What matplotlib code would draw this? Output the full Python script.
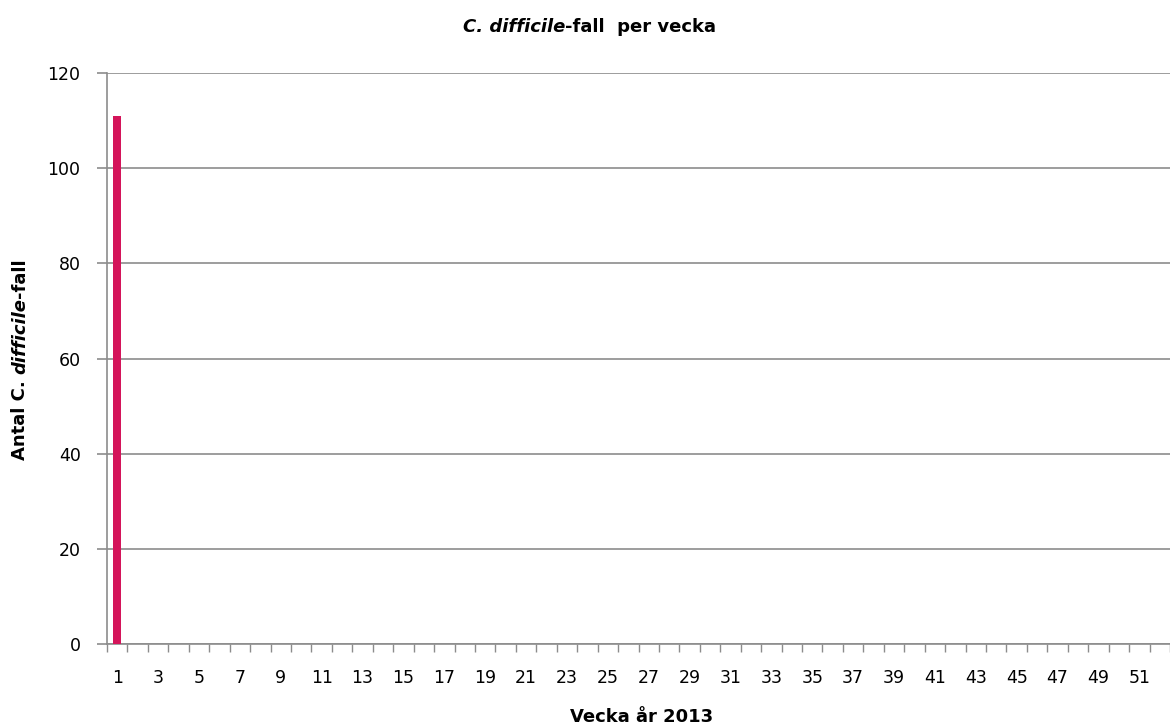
import matplotlib.pyplot as plt

# data
weeks = list(range(1, 53))
counts = [111]          # only week 1 reported so far
yticks = [0, 20, 40, 60, 80, 100, 120]

grey = "#8c8c8c"
plt.rcParams['font.family'] = ['DejaVu Sans']

fig = plt.figure(figsize=(11.7, 7.27), dpi=100)
ax = fig.add_axes([107 / 1170, 1 - 644 / 727, 1 - 107 / 1170, (644 - 73) / 727])

pos = list(range(len(weeks)))
ax.bar(pos[:len(counts)], counts, width=0.4, color="#D4145A", zorder=3)

ax.set_xlim(-0.5, len(weeks) - 0.5)
ax.set_ylim(0, 120)
ax.set_yticks(yticks)
ax.set_yticklabels([str(v) for v in yticks], fontsize=12.5)
ax.grid(axis="y", color=grey, linewidth=1.2, zorder=0)

# category ticks at the boundaries, labels on every other week
ax.set_xticks([p - 0.5 for p in pos] + [len(weeks) - 0.5], minor=True)
ax.set_xticks(pos[::2])
ax.set_xticklabels([str(w) for w in weeks[::2]], fontsize=12.5)
ax.tick_params(axis="x", which="major", length=0, pad=18)
ax.tick_params(axis="x", which="minor", length=6, color=grey, width=1)
ax.tick_params(axis="y", length=7, color=grey, width=1.2, pad=12)

for s in ["top", "right"]:
    ax.spines[s].set_visible(False)
for s in ["left", "bottom"]:
    ax.spines[s].set_color(grey)
    ax.spines[s].set_linewidth(1.2)

# title, mixed italic / regular bold
fig.text(0.483, 1 - 27 / 727, "C. difficile", fontsize=13, fontweight="bold",
         style="italic", ha="right", va="center")
fig.text(0.483, 1 - 27 / 727, "-fall  per vecka", fontsize=13, fontweight="bold",
         ha="left", va="center")

# y label
y1 = fig.text(20 / 1170, 1 - 460 / 727, "Antal C. ", fontsize=13, fontweight="bold",
              rotation=90, ha="center", va="bottom")
y2 = ax.annotate("difficile", xy=(0.5, 1), xycoords=y1, fontsize=13, fontweight="bold",
                 style="italic", rotation=90, ha="center", va="bottom")
ax.annotate("-fall", xy=(0.5, 1), xycoords=y2, fontsize=13, fontweight="bold",
            rotation=90, ha="center", va="bottom")

fig.text(0.548, 1 - 717 / 727, "Vecka år 2013", fontsize=13, fontweight="bold",
         ha="center", va="center")

fig.savefig("out.png", dpi=100)
